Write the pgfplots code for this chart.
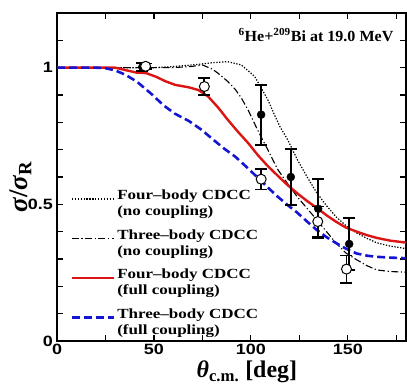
\documentclass[border=0pt]{standalone}
\usepackage{pgfplots}
\pgfplotsset{compat=1.18}
\usepackage{graphicx}
\usepackage{fontspec}
\setmainfont{Liberation Serif}
\setsansfont{Liberation Sans}
\usetikzlibrary{calc}
\definecolor{cred}{RGB}{220,20,20}
\definecolor{cblue}{RGB}{20,20,210}
\newcommand{\lentry}[2]{\scalebox{1.22}[1]{\begin{tabular}{@{}l@{}}#1\\#2\end{tabular}}}
\begin{document}
\begin{tikzpicture}
\begin{axis}[name=ax,
  width=349bp, height=328bp, scale only axis,
  xmin=0, xmax=180, ymin=0, ymax=1.2,
  xtick={0,50,100,150}, minor xtick={25,75,125,175},
  ytick={0,0.5,1}, minor ytick={0.1,0.2,0.3,0.4,0.6,0.7,0.8,0.9,1.1},
  tick align=inside,
  major tick length=6bp, minor tick length=6bp,
  every tick/.style={line width=1.2bp, black},
  axis line style={line width=1.8bp},
  tick label style={font=\sffamily\bfseries\fontsize{15}{15}\selectfont, xscale=1.2},
  /pgf/number format/assume math mode=true,
  xlabel={\fontsize{24}{24}\selectfont\bfseries\itshape θ\textsubscript{\upshape c.m.}\upshape\ [deg]},
  xlabel style={at={(axis description cs:0.544,-0.094)}, anchor=center},
  ylabel={\fontsize{27}{27}\selectfont\bfseries\itshape σ\upshape/\itshape σ\textsubscript{\upshape R}},
  ylabel style={at={(axis description cs:-0.104,0.47)}, anchor=center, rotate=0},
  legend image code/.code={\draw[#1] (0bp,0bp) -- (42bp,0bp);},
  legend cell align=left,
  legend style={at={(rel axis cs:0.03,0.478)}, anchor=north west, draw=none, fill=none,
    font=\bfseries\fontsize{14}{16}\selectfont, row sep=14.5bp},
]
% Four-body no coupling (dotted)
\addplot[black, line width=1.2bp, dash pattern=on 1.3bp off 1.6bp] coordinates {
(0,1.0) (20,1.0) (40,1.0) (50,1.0) (60,1.004) (70,1.01) (80,1.018) (88,1.022) (95,1.01)
(100,0.98) (102,0.967) (105,0.93) (108.7,0.883) (112,0.83) (115,0.784) (119,0.736)
(124,0.663) (129,0.60) (134,0.542) (139,0.495) (144,0.454) (149,0.422) (154.6,0.395)
(160,0.375) (165,0.359) (172,0.347) (180,0.338)};
\addlegendentry{\lentry{Four--body CDCC}{(no coupling)}}
% Three-body no coupling (dash-dot)
\addplot[black, line width=1.1bp, dash pattern=on 7bp off 2.5bp on 1.2bp off 2.5bp] coordinates {
(0,1.0) (40,1.0) (60,1.0) (70,1.005) (75,1.01) (80,0.995) (83,0.98) (88,0.95) (92,0.92)
(95,0.89) (98.5,0.846) (103.6,0.77) (108.7,0.70) (113.8,0.628) (119,0.575) (124,0.527)
(129,0.485) (134,0.443) (139,0.40) (144,0.358) (149,0.322) (154.6,0.297) (160,0.275)
(165,0.26) (172,0.254) (180,0.252)};
\addlegendentry{\lentry{Three--body CDCC}{(no coupling)}}
% Four-body full coupling (red)
\addplot[cred, line width=2.4bp] coordinates {
(0,1.0) (30,1.0) (36,0.99) (41,0.982) (46,0.98) (51,0.967) (56,0.95) (61,0.937) (68,0.928)
(73,0.918) (78,0.894) (83,0.855) (88,0.81) (93,0.768) (98.5,0.725) (103.6,0.68)
(108.7,0.64) (113.8,0.605) (119,0.57) (124,0.54) (129,0.512) (134,0.487) (139,0.46)
(144,0.436) (149,0.415) (154.6,0.40) (160,0.387) (165,0.377) (172,0.367) (180,0.36)};
\addlegendentry{\lentry{Four--body CDCC}{(full coupling)}}
% Three-body full coupling (blue dashed)
\addplot[cblue, line width=2.6bp, dash pattern=on 8bp off 4bp] coordinates {
(0,1.0) (20,1.0) (25,0.998) (30,0.99) (35,0.975) (41,0.95) (48.5,0.905) (55,0.862)
(60.7,0.832) (68,0.805) (74.5,0.773) (80,0.74) (86,0.705) (92,0.674) (98,0.635)
(103.6,0.597) (109,0.56) (114,0.527) (119,0.497) (124,0.469) (129,0.437) (134,0.406)
(139,0.38) (144,0.358) (149,0.338) (154.6,0.32) (160,0.312) (165,0.308) (172,0.305)
(180,0.303)};
\addlegendentry{\lentry{Three--body CDCC}{(full coupling)}}
% filled data
\addplot[forget plot, only marks, black, mark=*, mark size=4bp,
  error bars/.cd, y dir=both, y explicit,
  error bar style={line width=1.8bp, black},
  error mark options={rotate=90, mark size=6bp, line width=1.8bp, black}]
  table[x=x, y=y, y error=e] {
x y e
44 1.003 0.014
105.3 0.828 0.11
120.6 0.600 0.103
134.7 0.484 0.108
150.7 0.355 0.095
};
% open data
\addplot[forget plot, only marks, black, mark=*, mark size=5bp, mark options={fill=white, line width=1bp},
  error bars/.cd, y dir=both, y explicit,
  error bar style={line width=1.8bp, black},
  error mark options={rotate=90, mark size=6bp, line width=1.8bp, black}]
  table[x=x, y=y, y error=e] {
x y e
45.7 1.005 0.01
76 0.931 0.032
105.3 0.592 0.038
134.5 0.437 0.055
149.3 0.263 0.05
};
\node[anchor=east, font=\bfseries\fontsize{15.5}{15.5}\selectfont] at (rel axis cs:0.974,0.933)
  {\scalebox{1.04}[1]{\textsuperscript{6}He+\textsuperscript{209}Bi at 19.0 MeV}};
\end{axis}
\pgfresetboundingbox
\useasboundingbox ($(ax.south west)+(-57bp,-44bp)$) rectangle ($(ax.north east)+(1bp,13bp)$);
\end{tikzpicture}
\end{document}
